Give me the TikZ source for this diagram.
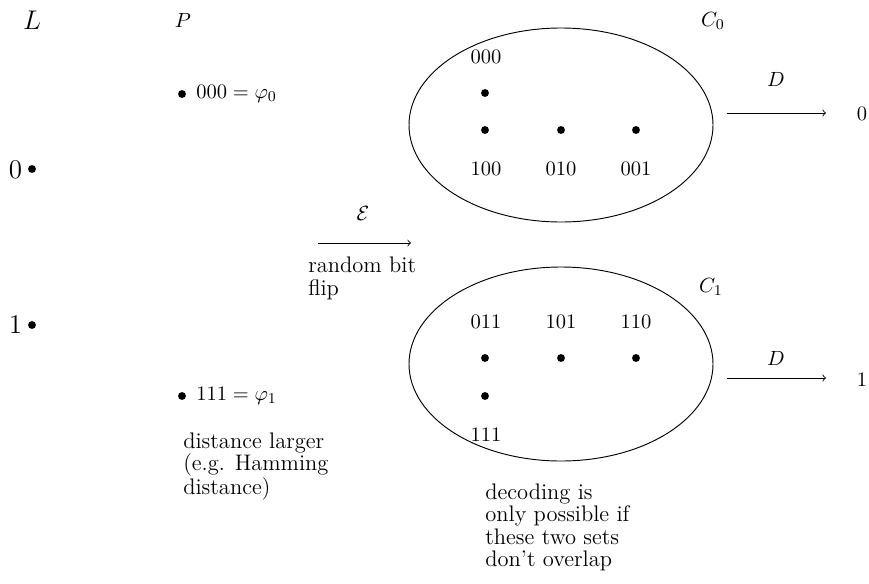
\documentclass[tikz,border=0pt]{standalone}
\usetikzlibrary{shapes.geometric}
\begin{document}
\begin{tikzpicture}[x=0.5333pt,y=-0.5333pt,
  dot/.style={circle,fill=black,inner sep=0pt,minimum size=4.2pt},
  lbl/.style={inner sep=0pt,font=\fontsize{10.9}{12}\selectfont},
  big/.style={inner sep=0pt,font=\fontsize{14.4}{16}\selectfont},
  txt/.style={inner sep=0pt,anchor=north west,align=left,font=\fontsize{12}{12}\selectfont},
  set/.style={ellipse,draw,line width=0.5pt,inner sep=0pt},
  arr/.style={->,line width=0.45pt}]
\useasboundingbox (0,0) rectangle (869,583);
% headers
\node[big] (L) at (32,20) {$L$};
\node[lbl] (P) at (183,20) {$P$};
\node[lbl] (C0) at (713,21) {$C_0$};
\node[lbl] (C1) at (711,287) {$C_1$};
% L column
\node[big] (z0) at (15.5,170) {$0$};
\node[dot] (l0) at (32,169) {};
\node[big] (z1) at (15.5,325) {$1$};
\node[dot] (l1) at (32,325) {};
% P column
\node[dot] (p0) at (182,94) {};
\node[lbl,anchor=west] (p0t) at (196,94) {$000=\varphi_0$};
\node[dot] (p1) at (182,396) {};
\node[lbl,anchor=west] (p1t) at (196,396) {$111=\varphi_1$};
\node[txt] (dist) at (183,432) {distance larger\\(e.g. Hamming\\distance)};
% channel
\coordinate (e1) at (318,243);
\coordinate (e2) at (411,243);
\draw[arr] (e1) -- (e2);
\node[lbl] (E) at (363,213) {$\mathcal{E}$};
\node[txt] (flip) at (308,257) {random bit\\flip};
% sets
\node[set,minimum width=304pt*0.5333,minimum height=194pt*0.5333] (S0) at (561,125) {};
\node[set,minimum width=304pt*0.5333,minimum height=194pt*0.5333] (S1) at (561,364) {};
% C0 points
\node[dot] (d000) at (485,93) {};
\node[dot] (d100) at (485,130) {};
\node[dot] (d010) at (561,130) {};
\node[dot] (d001) at (636,130) {};
\node[lbl] at (486,57) {$000$};
\node[lbl] at (486,169) {$100$};
\node[lbl] at (561,169) {$010$};
\node[lbl] at (636,169) {$001$};
% C1 points
\node[dot] (d011) at (485,358) {};
\node[dot] (d101) at (561,358) {};
\node[dot] (d110) at (636,358) {};
\node[dot] (d111) at (485,396) {};
\node[lbl] at (486,322) {$011$};
\node[lbl] at (561,322) {$101$};
\node[lbl] at (636,322) {$110$};
\node[lbl] at (486,435) {$111$};
% decoding
\coordinate (a1) at (727,113);
\coordinate (a2) at (826,113);
\draw[arr] (a1) -- (a2);
\node[lbl] (D0) at (776,79) {$D$};
\node[lbl] (o0) at (862,114) {$0$};
\coordinate (b1) at (727,378);
\coordinate (b2) at (826,378);
\draw[arr] (b1) -- (b2);
\node[lbl] (D1) at (776,358) {$D$};
\node[lbl] (o1) at (862,380) {$1$};
\node[txt] (dec) at (485,483) {decoding is\\only possible if\\these two sets\\don't overlap};
\end{tikzpicture}
\end{document}
